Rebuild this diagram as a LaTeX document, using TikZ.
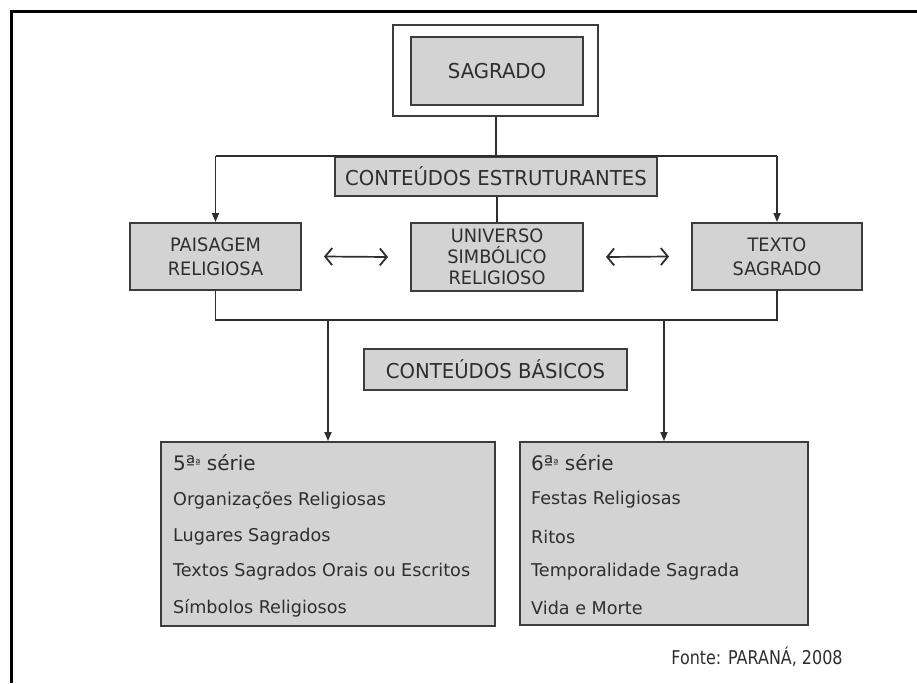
\documentclass[tikz,border=0pt]{standalone}
\usepackage{fontspec}
\setmainfont{DejaVu Sans}
\newfontfamily\condfont{DejaVu Sans}[FakeStretch=0.84]
\newfontfamily\topfont{DejaVu Sans}[FakeStretch=0.96]
\usetikzlibrary{arrows.meta}
\definecolor{boxfill}{HTML}{D3D3D3}
\definecolor{boxline}{HTML}{3C3C3C}
\definecolor{txt}{HTML}{2E2E2E}
\definecolor{conn}{HTML}{2E2E2E}
\tikzset{
  graybox/.style={draw=boxline, line width=2pt, fill=boxfill, inner sep=0pt, text=txt, align=center},
  conline/.style={draw=conn, line width=1.7pt},
  downarrow/.style={conline, -{Triangle[length=9pt,width=7pt]}},
  duoarrow/.style={conline, {Straight Barb[length=7pt,width=17pt,line width=1.8pt]}-{Straight Barb[length=7pt,width=17pt,line width=1.8pt]}},
  listtext/.style={anchor=west, inner sep=0pt, text=txt, font=\fontsize{17.6}{20}\selectfont},
}
\begin{document}
\begin{tikzpicture}[x=1pt, y=-1pt]
\useasboundingbox (0,0) rectangle (917,683);
% outer frame
\draw[line width=3pt, black] (917,11) -- (11,11) -- (11,683);

% SAGRADO
\node[draw=boxline, line width=2pt, fill=white, minimum width=205pt, minimum height=91pt, inner sep=0pt] (sagout) at (495.5,70.5) {};
\node[graybox, minimum width=172pt, minimum height=68pt, font=\topfont\fontsize{20.5}{23}\selectfont] (sag) at (497,71) {SAGRADO};

% Conteudos estruturantes
\node[graybox, minimum width=322pt, minimum height=39pt, font=\topfont\fontsize{20.5}{23}\selectfont] (est) at (496,176.5) {CONTEÚDOS ESTRUTURANTES};

\node[graybox, minimum width=171pt, minimum height=67pt, font=\topfont\fontsize{18.5}{24}\selectfont] (pai) at (215.5,256.5) {PAISAGEM\\RELIGIOSA};
\node[graybox, minimum width=172pt, minimum height=68pt, font=\topfont\fontsize{18.5}{21}\selectfont] (uni) at (497,257) {UNIVERSO\\SIMBÓLICO\\RELIGIOSO};
\node[graybox, minimum width=170pt, minimum height=67pt, font=\topfont\fontsize{18.5}{24}\selectfont] (tex) at (777,256.5) {TEXTO\\SAGRADO};

\node[graybox, minimum width=263pt, minimum height=41pt, font=\topfont\fontsize{20.5}{23}\selectfont] (bas) at (495.5,369.5) {CONTEÚDOS BÁSICOS};

% series boxes
\node[graybox, minimum width=334pt, minimum height=184pt] (s5) at (328,534) {};
\node[graybox, minimum width=288pt, minimum height=183pt] (s6) at (664,533.5) {};

\node[listtext, font=\fontsize{20}{22}\selectfont] (s5t0) at (173,463) {5ª\raisebox{3pt}{\fontsize{11}{11}\selectfont ª} série};
\node[listtext] (s5t1) at (173,500) {Organizações Religiosas};
\node[listtext] (s5t2) at (173,537) {Lugares Sagrados};
\node[listtext] (s5t3) at (173,572) {Textos Sagrados Orais ou Escritos};
\node[listtext] (s5t4) at (173,608) {Símbolos Religiosos};

\node[listtext, font=\fontsize{20}{22}\selectfont] (s6t0) at (531,463) {6ª\raisebox{3pt}{\fontsize{11}{11}\selectfont ª} série};
\node[listtext] (s6t1) at (531,500) {Festas Religiosas};
\node[listtext] (s6t2) at (531,537) {Ritos};
\node[listtext] (s6t3) at (531,572) {Temporalidade Sagrada};
\node[listtext] (s6t4) at (531,608) {Vida e Morte};

% source
\node[inner sep=0pt, text=txt, font=\condfont\fontsize{19}{22}\selectfont] (fonte) at (757,657) {Fonte: PARANÁ, 2008};

% connectors
\coordinate (bl) at (0,320);
\draw[conline] (sagout.south -| est.north) -- (est.north);
\draw[conline] (est.north -| pai.north) -- (est.north -| tex.north);
\draw[downarrow] (est.north -| pai.north) -- (pai.north);
\draw[downarrow] (est.north -| tex.north) -- (tex.north);
\draw[conline] (uni.north |- est.south) -- (uni.north);
\draw[duoarrow] ([xshift=22pt]pai.east) -- ([xshift=-22pt]uni.west);
\draw[duoarrow] ([xshift=22pt]uni.east) -- ([xshift=-22pt]tex.west);
\draw[conline] (pai.south) -- (pai.south |- bl) -- (tex.south |- bl) -- (tex.south);
\draw[downarrow] (s5.north |- bl) -- (s5.north);
\draw[downarrow] (s6.north |- bl) -- (s6.north);
\end{tikzpicture}
\end{document}
